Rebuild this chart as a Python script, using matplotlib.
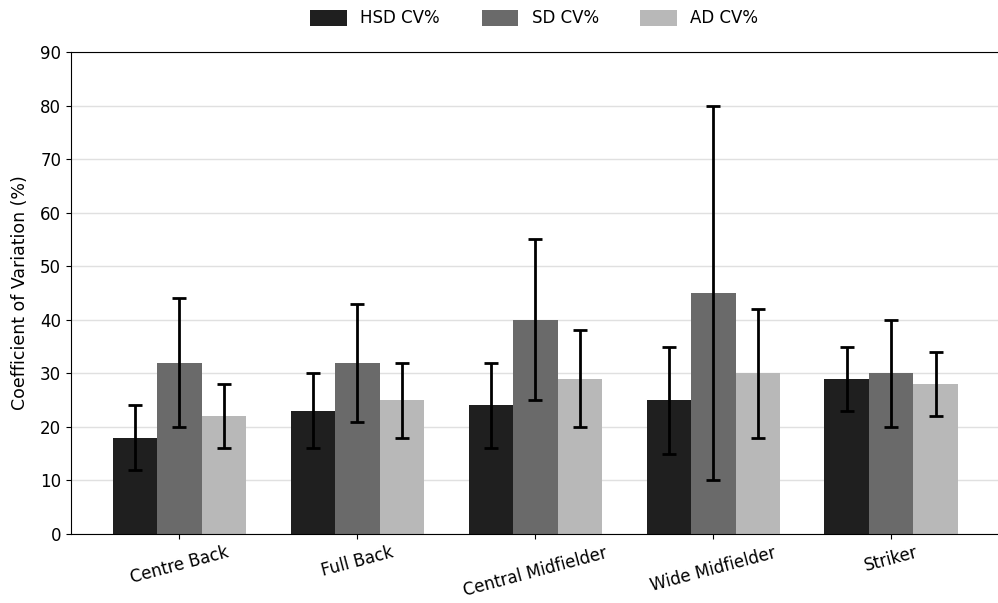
import numpy as np
import matplotlib.pyplot as plt

positions = ['Centre Back', 'Full Back', 'Central Midfielder', 'Wide Midfielder', 'Striker']
series = ['HSD CV%', 'SD CV%', 'AD CV%']
hsd = [18, 23, 24, 25, 29]
sd = [32, 32, 40, 45, 30]
ad = [22, 25, 29, 30, 28]
hsd_err = [6, 7, 8, 10, 6]
sd_err = [12, 11, 15, 35, 10]
ad_err = [6, 7, 9, 12, 6]
colors = ['#1f1f1f', '#6a6a6a', '#b8b8b8']

fig = plt.figure(figsize=(9.98, 6.03), dpi=100)
ax = fig.add_axes([0.071, 0.1144, 0.929, 0.7994])

x = np.arange(len(positions))
w = 0.25
for i, (vals, errs) in enumerate([(hsd, hsd_err), (sd, sd_err), (ad, ad_err)]):
    ax.bar(x + (i - 1) * w, vals, w, color=colors[i], label=series[i], zorder=2,
           yerr=errs, capsize=5, error_kw=dict(elinewidth=2, capthick=2, ecolor='black'))

ax.set_xlim(-0.61, 4.6)
ax.set_ylim(0, 90)
ax.set_yticks(range(0, 91, 10))
ax.set_xticks(x)
ax.set_xticklabels(positions, rotation=15, fontsize=12)
ax.tick_params(axis='y', labelsize=12)
ax.set_ylabel('Coefficient of Variation (%)', fontsize=12.5, labelpad=8)
ax.yaxis.grid(True, color='#e0e0e0', linewidth=1, zorder=0)
ax.set_axisbelow(True)
ax.spines['right'].set_visible(False)

ax.legend(loc='lower center', bbox_to_anchor=(0.5, 1.02), ncol=3, frameon=False,
          fontsize=12, handlelength=2.2, handleheight=1.1, columnspacing=2.5)

plt.savefig('out.png')
